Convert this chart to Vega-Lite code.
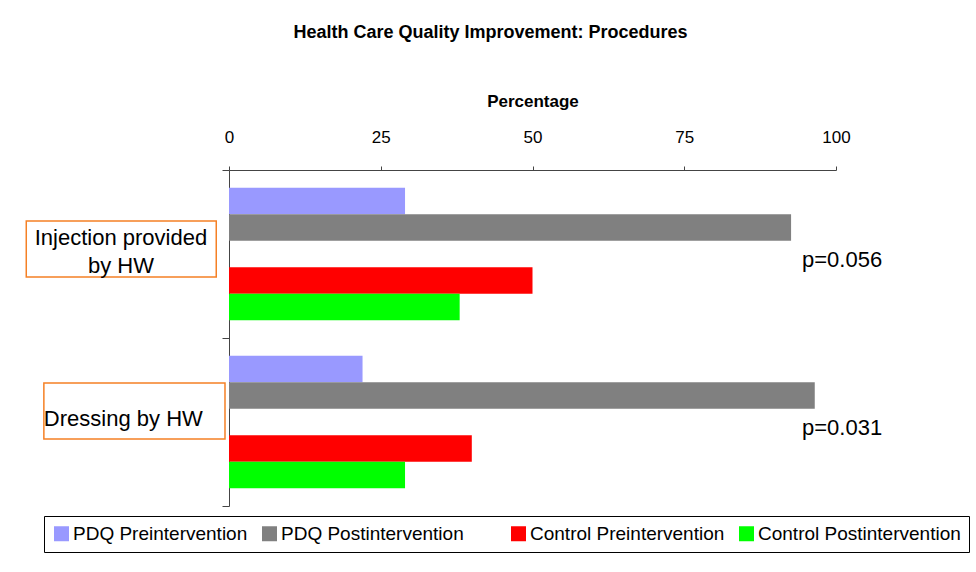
{
  "$schema": "https://vega.github.io/schema/vega-lite/v6.json",
  "width": 607,
  "height": 336,
  "autosize": {"type": "none"},
  "padding": {"left": 229, "top": 170, "right": 140, "bottom": 66},
  "background": "white",
  "title": {
    "text": "Health Care Quality Improvement: Procedures",
    "fontSize": 18,
    "fontWeight": "bold",
    "font": "Liberation Sans",
    "anchor": "middle",
    "dx": -42,
    "offset": 50,
    "color": "black"
  },
  "config": {
    "view": {"stroke": null},
    "font": "Liberation Sans"
  },
  "datasets": {
    "bars": [
      {"group": "Injection provided by HW", "series": "PDQ Preintervention", "value": 29.0},
      {"group": "Injection provided by HW", "series": "PDQ Postintervention", "value": 92.6},
      {"group": "Injection provided by HW", "series": "Control Preintervention", "value": 50.0},
      {"group": "Injection provided by HW", "series": "Control Postintervention", "value": 38.0},
      {"group": "Dressing by HW", "series": "PDQ Preintervention", "value": 22.0},
      {"group": "Dressing by HW", "series": "PDQ Postintervention", "value": 96.5},
      {"group": "Dressing by HW", "series": "Control Preintervention", "value": 40.0},
      {"group": "Dressing by HW", "series": "Control Postintervention", "value": 29.0}
    ],
    "groups": [
      {"group": "Injection provided by HW", "label": "Injection provided\nby HW", "p": "p=0.056"},
      {"group": "Dressing by HW", "label": "Dressing by HW", "p": "p=0.031"}
    ]
  },
  "layer": [
    {
      "data": {"name": "bars"},
      "mark": {"type": "bar"},
      "encoding": {
        "x": {
          "field": "value",
          "type": "quantitative",
          "scale": {"domain": [0, 100], "nice": false},
          "axis": {
            "orient": "top",
            "values": [0, 25, 50, 75, 100],
            "title": "Percentage",
            "titleFontSize": 17,
            "titleFontWeight": "bold",
            "titleColor": "black",
            "titlePadding": 18,
            "labelFontSize": 17,
            "labelColor": "black",
            "labelPadding": 20,
            "labelFlush": false,
            "tickSize": 4,
            "tickColor": "#444",
            "domainColor": "#444",
            "grid": false
          }
        },
        "y": {
          "field": "group",
          "type": "nominal",
          "scale": {"domain": ["Injection provided by HW", "Dressing by HW"], "paddingInner": 0, "paddingOuter": 0},
          "axis": {
            "labels": false,
            "title": null,
            "tickBand": "extent",
            "tickSize": 7,
            "tickColor": "#444",
            "domainColor": "#444"
          }
        },
        "yOffset": {
          "field": "series",
          "type": "nominal",
          "scale": {
            "domain": ["PDQ Preintervention", "PDQ Postintervention", "blank", "Control Preintervention", "Control Postintervention"],
            "paddingInner": 0,
            "paddingOuter": 0.67
          }
        },
        "color": {
          "field": "series",
          "type": "nominal",
          "scale": {
            "domain": ["PDQ Preintervention", "PDQ Postintervention", "blank", "Control Preintervention", "Control Postintervention"],
            "range": ["#9999FF", "#808080", "transparent", "#FF0000", "#00FF00"]
          },
          "legend": {
            "orient": "none",
            "legendX": -185,
            "legendY": 346,
            "direction": "horizontal",
            "title": null,
            "symbolType": "square",
            "symbolSize": 225,
            "symbolStrokeWidth": 0,
            "labelOffset": 2,
            "labelFontSize": 19,
            "labelColor": "black",
            "labelLimit": 300,
            "labelExpr": "datum.label == 'blank' ? '' : datum.label",
            "columnPadding": 12,
            "padding": 8,
            "strokeColor": "black",
            "fillColor": "white"
          }
        }
      }
    },
    {
      "data": {"name": "groups"},
      "transform": [{"filter": "datum.group == 'Injection provided by HW'"}],
      "mark": {"type": "bar", "height": {"band": 0.333}, "fill": "white", "stroke": "#F58025", "strokeWidth": 1.5, "yOffset": -5},
      "encoding": {
        "x": {"datum": -33.4},
        "x2": {"datum": -2.1},
        "y": {"field": "group", "type": "nominal"}
      }
    },
    {
      "data": {"name": "groups"},
      "transform": [{"filter": "datum.group == 'Dressing by HW'"}],
      "mark": {"type": "bar", "height": {"band": 0.333}, "fill": "white", "stroke": "#F58025", "strokeWidth": 1.5, "yOffset": -11},
      "encoding": {
        "x": {"datum": -30.5},
        "x2": {"datum": -0.66},
        "y": {"field": "group", "type": "nominal"}
      }
    },
    {
      "data": {"name": "groups"},
      "transform": [{"filter": "datum.group == 'Injection provided by HW'"}],
      "mark": {"type": "text", "align": "center", "baseline": "middle", "fontSize": 22, "lineBreak": "\n", "lineHeight": 28, "dy": -16, "color": "black"},
      "encoding": {
        "x": {"datum": -17.8},
        "y": {"field": "group", "type": "nominal"},
        "text": {"field": "label"}
      }
    },
    {
      "data": {"name": "groups"},
      "transform": [{"filter": "datum.group == 'Dressing by HW'"}],
      "mark": {"type": "text", "align": "left", "baseline": "middle", "fontSize": 22, "dy": -3, "color": "black"},
      "encoding": {
        "x": {"datum": -30.5},
        "y": {"field": "group", "type": "nominal"},
        "text": {"field": "label"}
      }
    },
    {
      "data": {"name": "groups"},
      "mark": {"type": "text", "align": "left", "baseline": "alphabetic", "fontSize": 22, "dy": 13, "color": "black"},
      "encoding": {
        "x": {"datum": 94.4},
        "y": {"field": "group", "type": "nominal"},
        "text": {"field": "p"}
      }
    }
  ]
}
